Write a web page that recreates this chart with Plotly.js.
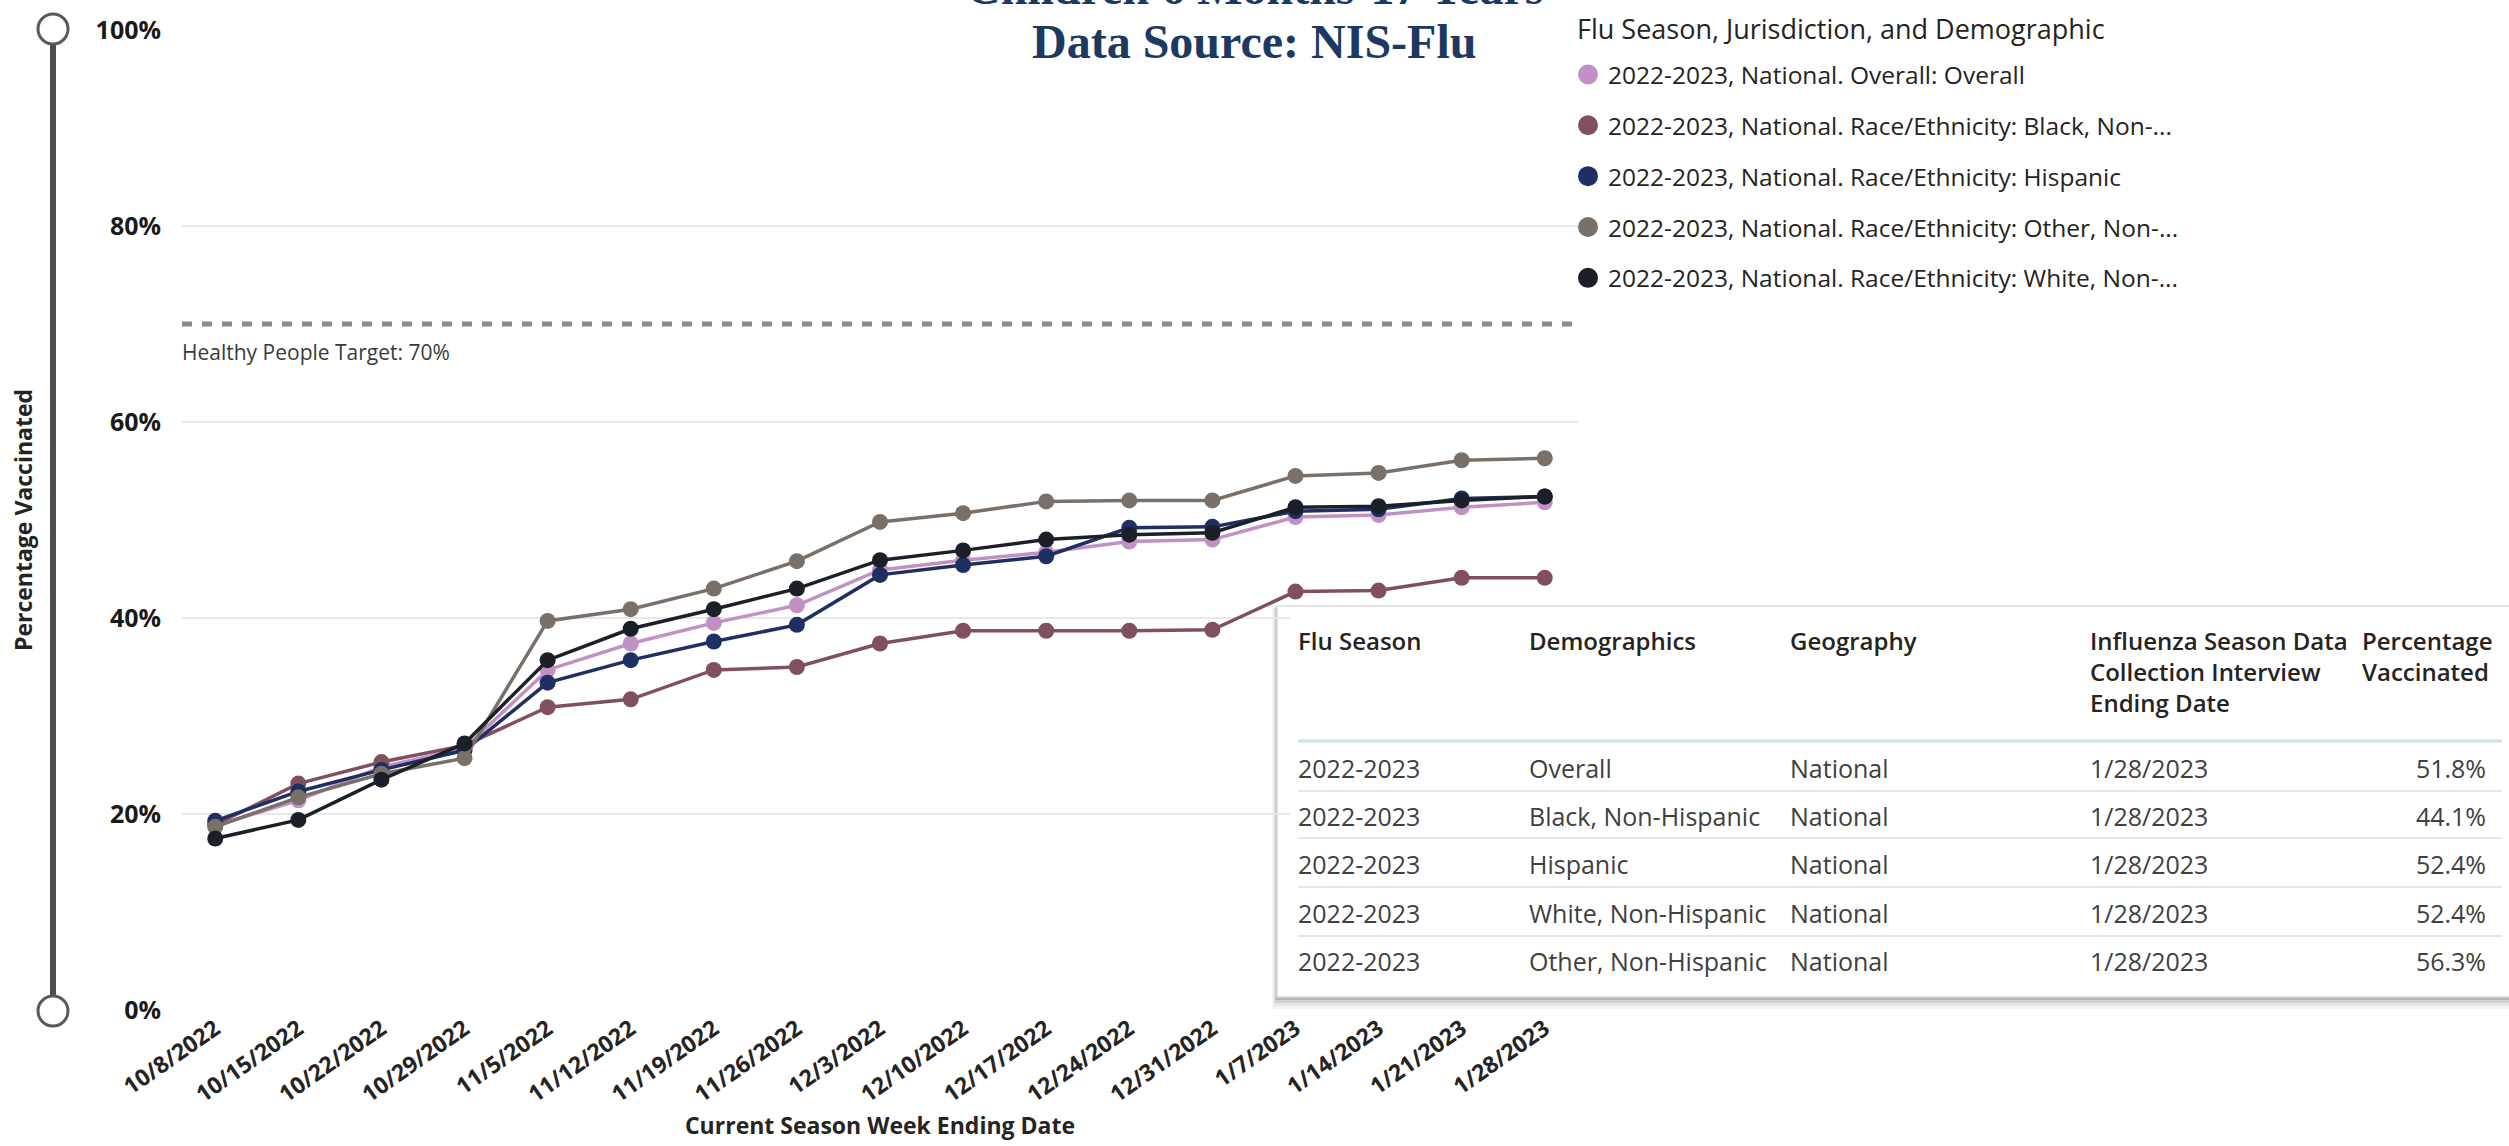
<!DOCTYPE html>
<html>
<head>
<meta charset="utf-8">
<script src="https://cdn.plot.ly/plotly-3.0.1.min.js"></script>
<style>
html,body{margin:0;padding:0;background:#ffffff;}
#chart{width:2509px;height:1146px;}
</style>
</head>
<body>
<div id="chart"></div>
<script>
// ---------------- DATA ----------------
const weeks = ['10/8/2022','10/15/2022','10/22/2022','10/29/2022','11/5/2022','11/12/2022','11/19/2022','11/26/2022',
  '12/3/2022','12/10/2022','12/17/2022','12/24/2022','12/31/2022','1/7/2023','1/14/2023','1/21/2023','1/28/2023'];

const overall  = [18.8, 21.4, 24.8, 26.7, 34.7, 37.4, 39.5, 41.3, 44.9, 45.9, 46.7, 47.8, 48.0, 50.3, 50.5, 51.3, 51.8];
const black    = [18.9, 23.1, 25.3, 27.0, 30.9, 31.7, 34.7, 35.0, 37.4, 38.7, 38.7, 38.7, 38.8, 42.7, 42.8, 44.1, 44.1];
const hispanic = [19.3, 22.3, 24.5, 26.5, 33.4, 35.7, 37.6, 39.3, 44.4, 45.4, 46.3, 49.2, 49.3, 50.9, 51.1, 52.2, 52.4];
const other    = [18.7, 21.7, 24.1, 25.7, 39.7, 40.9, 43.0, 45.8, 49.8, 50.7, 51.9, 52.0, 52.0, 54.5, 54.8, 56.1, 56.3];
const white    = [17.5, 19.4, 23.5, 27.2, 35.7, 38.9, 40.9, 43.0, 45.9, 46.9, 48.0, 48.5, 48.7, 51.3, 51.4, 52.0, 52.4];

const seriesNames = [
  '2022-2023, National. Overall: Overall',
  '2022-2023, National. Race/Ethnicity: Black, Non-...',
  '2022-2023, National. Race/Ethnicity: Hispanic',
  '2022-2023, National. Race/Ethnicity: Other, Non-...',
  '2022-2023, National. Race/Ethnicity: White, Non-...'
];
const seriesColors = ['#C291C4', '#80505F', '#1F2E63', '#7A706A', '#1B1F27'];

const yTickVals = [0, 20, 40, 60, 80, 100];
const yTickText = ['0%', '20%', '40%', '60%', '80%', '100%'];
const targetValue = 70;
const targetLabel = 'Healthy People Target: 70%';

const titleLine1 = 'Children 6 Months-17 Years';
const titleLine2 = 'Data Source: NIS-Flu';
const legendTitle = 'Flu Season, Jurisdiction, and Demographic';
const xTitle = 'Current Season Week Ending Date';
const yTitle = 'Percentage Vaccinated';

const tableHeader = ['Flu Season', 'Demographics', 'Geography',
  'Influenza Season Data<br>Collection Interview<br>Ending Date', 'Percentage<br>Vaccinated'];
const tableSeason = ['2022-2023', '2022-2023', '2022-2023', '2022-2023', '2022-2023'];
const tableDemo   = ['Overall', 'Black, Non-Hispanic', 'Hispanic', 'White, Non-Hispanic', 'Other, Non-Hispanic'];
const tableGeo    = ['National', 'National', 'National', 'National', 'National'];
const tableDate   = ['1/28/2023', '1/28/2023', '1/28/2023', '1/28/2023', '1/28/2023'];
const tablePct    = ['51.8%', '44.1%', '52.4%', '52.4%', '56.3%'];

// ---------------- LAYOUT HELPERS ----------------
const W = 2509, H = 1146;
const px = v => v / W;
const py = v => 1 - v / H;
const plotL = 182, plotR = 1578, plotT = 30, plotB = 1010;
const FONT = '"Open Sans", "Noto Sans", sans-serif';
const TXT = '#252423';

const series = [overall, black, hispanic, other, white];
const traces = [];
series.forEach((vals, i) => {
  traces.push({
    type: 'scatter', mode: 'lines+markers', x: weeks, y: vals,
    name: seriesNames[i], legendgroup: 'g' + i, showlegend: false,
    line: {color: seriesColors[i], width: 3.5},
    marker: {color: seriesColors[i], size: 16},
    hoverinfo: 'skip'
  });
});
// legend entries (dot only, as in the reference legend)
series.forEach((vals, i) => {
  traces.push({
    type: 'scatter', mode: 'markers', x: [null], y: [null],
    name: seriesNames[i], legendgroup: 'g' + i, showlegend: true,
    marker: {color: seriesColors[i], size: 16, line: {color: seriesColors[i], width: 4}}
  });
});

// table (single-line headers get a trailing break so all header cells share one vertical layout)
const tblL = 1290, tblR = 2494, tblT = 616, tblB = 995;
const headerCells = tableHeader.map(h => [h.indexOf('<br>') === -1 ? h + '<br> ' : h]);
traces.push({
  type: 'table',
  domain: {x: [px(tblL), px(tblR)], y: [py(tblB), py(tblT)]},
  columnwidth: [231, 261, 300, 272, 140],
  header: {
    values: headerCells,
    align: ['left', 'left', 'left', 'left', 'left'],
    height: 135,
    fill: {color: '#ffffff'},
    line: {color: '#ffffff', width: 0},
    font: {family: FONT, size: 24, color: TXT, weight: 600}
  },
  cells: {
    values: [tableSeason, tableDemo, tableGeo, tableDate, tablePct],
    align: ['left', 'left', 'left', 'left', 'right'],
    height: 48.3,
    fill: {color: '#ffffff'},
    line: {color: '#ffffff', width: 0},
    font: {family: FONT, size: 25, color: '#404040'}
  }
});

// ---------------- SHAPES ----------------
const boxL = 1277, boxT = 606, boxB = 997;
const shapes = [];
// drop shadow
[[12, 0.04], [9, 0.06], [6, 0.09], [3, 0.14]].forEach(([o, a]) => {
  shapes.push({type: 'rect', xref: 'paper', yref: 'paper', layer: 'below',
    x0: px(boxL - o * 0.4), x1: 1, y0: py(boxB + o), y1: py(boxT + o * 0.2),
    fillcolor: 'rgba(0,0,0,' + a + ')', line: {width: 0}});
});
// white table box
shapes.push({type: 'rect', xref: 'paper', yref: 'paper', layer: 'below',
  x0: px(boxL), x1: px(W + 5), y0: py(boxB), y1: py(boxT),
  fillcolor: '#ffffff', line: {color: '#dadada', width: 1.5}});
// cover gridline in the gap above the table header
shapes.push({type: 'rect', xref: 'paper', yref: 'paper', layer: 'above',
  x0: px(boxL + 1.5), x1: px(plotR + 2), y0: py(tblT - 1), y1: py(boxT + 1.5),
  fillcolor: '#ffffff', line: {width: 0}});
// header underline
shapes.push({type: 'line', xref: 'paper', yref: 'paper', layer: 'above',
  x0: px(1298), x1: px(2502), y0: py(741), y1: py(741),
  line: {color: '#C8E3EB', width: 3}});
// row separators
[791, 838, 887, 936].forEach(yv => {
  shapes.push({type: 'line', xref: 'paper', yref: 'paper', layer: 'above',
    x0: px(1298), x1: px(2502), y0: py(yv), y1: py(yv),
    line: {color: '#E6E6E6', width: 2}});
});
// target dashed line
shapes.push({type: 'line', xref: 'paper', yref: 'y', layer: 'above',
  x0: px(plotL), x1: px(plotR), y0: targetValue, y1: targetValue,
  line: {color: '#8A8A8A', width: 5, dash: '10px,10px'}});
// range slider (vertical) on the left
const sliderX = 53, sliderTop = 29, sliderBot = 1011;
shapes.push({type: 'line', xref: 'paper', yref: 'paper', layer: 'above',
  x0: px(sliderX), x1: px(sliderX), y0: py(sliderBot), y1: py(sliderTop),
  line: {color: '#4D4D4D', width: 6}});
[sliderTop, sliderBot].forEach(v => {
  shapes.push({type: 'circle', xref: 'paper', yref: 'paper', layer: 'above',
    xsizemode: 'pixel', ysizemode: 'pixel', xanchor: px(sliderX), yanchor: py(v),
    x0: -15, x1: 15, y0: -15, y1: 15,
    fillcolor: '#ffffff', line: {color: '#5A5A5A', width: 3}});
});

// ---------------- ANNOTATIONS ----------------
const SERIF = '"Liberation Serif", "Times New Roman", serif';
const annotations = [
  {text: titleLine1, xref: 'paper', yref: 'paper', x: px(1254), y: py(-13), xanchor: 'center', yanchor: 'middle',
   showarrow: false, font: {family: SERIF, size: 48, color: '#1C3961', weight: 700}},
  {text: titleLine2, xref: 'paper', yref: 'paper', x: px(1254), y: py(42), xanchor: 'center', yanchor: 'middle',
   showarrow: false, font: {family: SERIF, size: 48, color: '#1C3961', weight: 700}},
  {text: targetLabel, xref: 'paper', yref: 'paper', x: px(180), y: py(352), xanchor: 'left', yanchor: 'middle',
   showarrow: false, font: {family: FONT, size: 21, color: '#3A3A3A'}},
  {text: legendTitle, xref: 'paper', yref: 'paper', x: px(1575), y: py(29), xanchor: 'left', yanchor: 'middle',
   showarrow: false, font: {family: FONT, size: 27, color: TXT}}
];

const layout = {
  width: W, height: H,
  margin: {l: 0, r: 0, t: 0, b: 0},
  paper_bgcolor: '#ffffff', plot_bgcolor: 'rgba(0,0,0,0)',
  font: {family: FONT, color: TXT},
  showlegend: true,
  xaxis: {
    domain: [px(plotL), px(plotR)], type: 'category', range: [-0.4, weeks.length - 0.6],
    tickangle: -35, tickfont: {family: FONT, size: 23, color: TXT, weight: 700},
    showgrid: false, zeroline: false, showline: false, ticks: '', automargin: false,
    title: {text: xTitle, font: {family: FONT, size: 23, color: TXT, weight: 700}, standoff: 0}
  },
  yaxis: {
    domain: [py(plotB), py(plotT)], range: [yTickVals[0], yTickVals[yTickVals.length - 1]],
    tickmode: 'array', tickvals: yTickVals, ticktext: yTickText,
    tickfont: {family: FONT, size: 25, color: '#1a1a1a', weight: 700},
    gridcolor: '#E8E8E8', gridwidth: 2, zeroline: false, showline: false, ticks: '',
    ticklabelstandoff: 20, automargin: false,
    title: {text: yTitle, font: {family: FONT, size: 23, color: TXT, weight: 700}, standoff: 56}
  },
  legend: {
    x: px(1568), y: py(52), xanchor: 'left', yanchor: 'top',
    bgcolor: 'rgba(0,0,0,0)', borderwidth: 0,
    font: {family: FONT, size: 24.5, color: TXT},
    tracegroupgap: 16, itemsizing: 'trace', traceorder: 'grouped'
  },
  shapes: shapes,
  annotations: annotations
};

Plotly.newPlot('chart', traces, layout, {staticPlot: true, displayModeBar: false});
</script>
</body>
</html>
